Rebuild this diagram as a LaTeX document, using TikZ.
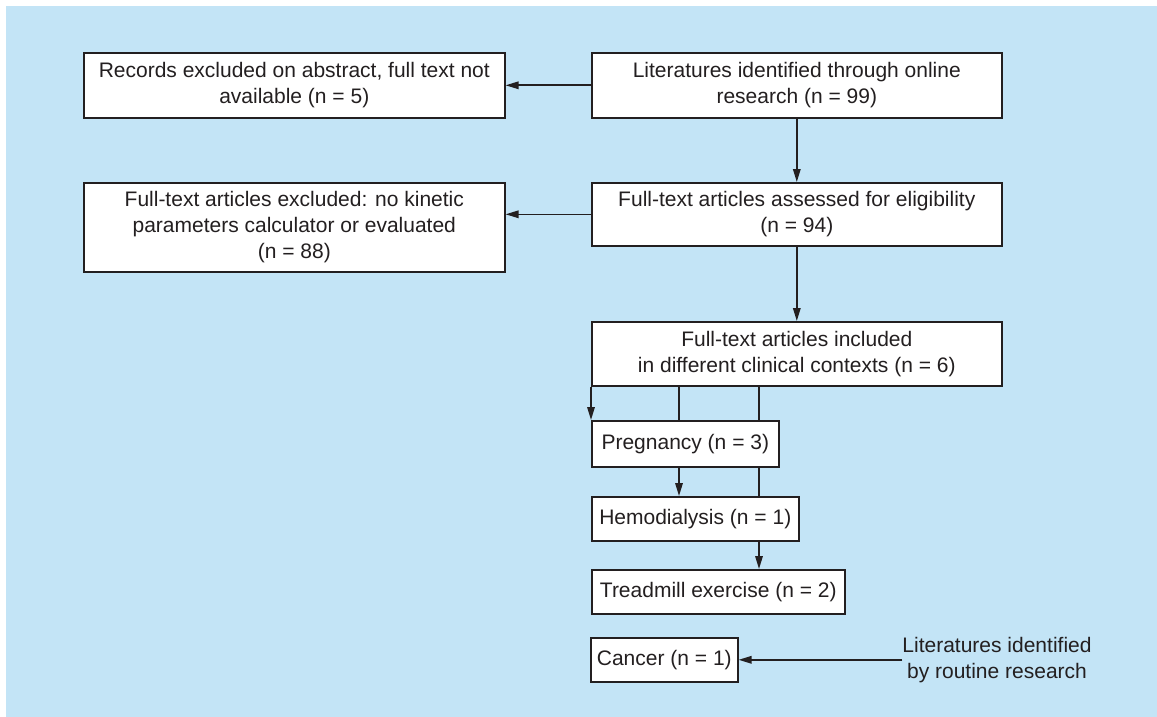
\documentclass[tikz,border=0pt]{standalone}
\usepackage{fontspec}
\setmainfont{Liberation Sans}
\usetikzlibrary{arrows.meta,calc}
\definecolor{bgblue}{HTML}{C3E4F6}
\definecolor{ink}{HTML}{231F20}
\pgfdeclarelayer{bg}
\pgfdeclarelayer{edges}
\pgfsetlayers{bg,edges,main}
\begin{document}
\begin{tikzpicture}[x=1pt,y=-1pt,
  box/.style={draw=ink, fill=white, line width=1.6pt, anchor=north west, align=center,
    inner sep=0pt, font=\fontsize{21}{26}\selectfont, text=ink},
  arr/.style={draw=ink, line width=1.6pt, -{Triangle[length=13pt,width=7.5pt]}},
  lbl/.style={align=center, inner sep=0pt, font=\fontsize{21}{26}\selectfont, text=ink}]
\useasboundingbox (0,0) rectangle (1157,717);
\begin{pgfonlayer}{bg}
\fill[white] (0,0) rectangle (1157,717);
\fill[bgblue] (6,6) rectangle (1157,717);
\end{pgfonlayer}

\node[box, minimum width=421pt, minimum height=65pt] (b1) at (83,52)
  {Records excluded on abstract, full text not\\available (n = 5)};
\node[box, minimum width=410pt, minimum height=65pt] (b2) at (591,52)
  {Literatures identified through online\\research (n = 99)};
\node[box, minimum width=410pt, minimum height=63pt] (b3) at (591,182)
  {Full-text articles assessed for eligibility\\(n = 94)};
\node[box, minimum width=421pt, minimum height=89pt] (b4) at (83,182)
  {Full-text articles excluded: no kinetic\\parameters calculator or evaluated\\(n = 88)};
\node[box, minimum width=410pt, minimum height=64pt] (b5) at (591,321)
  {Full-text articles included\\in different clinical contexts (n = 6)};
\node[box, minimum width=187pt, minimum height=46pt] (preg) at (591,420)
  {Pregnancy (n = 3)};
\node[box, minimum width=207pt, minimum height=44pt] (hemo) at (591,496)
  {Hemodialysis (n = 1)};
\node[box, minimum width=253pt, minimum height=44pt] (tread) at (591,569)
  {Treadmill exercise (n = 2)};
\node[box, minimum width=147pt, minimum height=44pt] (canc) at (590,637)
  {Cancer (n = 1)};
\node[lbl] (rout) at (997,660) {Literatures identified\\by routine research};

\begin{pgfonlayer}{edges}
\draw[arr] (b2.west) -- (b1.east);
\draw[arr] (b2.south) -- (b3.north);
\draw[arr] (b3.west) -- (b4.east |- b3.west);
\draw[arr] (b3.south) -- (b5.north);
\draw[arr] (b5.south west) -- (preg.north west);
\draw[arr] (b5.south -| 679,0) -- (hemo.north -| 679,0);
\draw[arr] (b5.south -| 759,0) -- (tread.north -| 759,0);
\draw[arr] (rout.west |- canc.east) -- (canc.east);
\end{pgfonlayer}
\end{tikzpicture}
\end{document}
